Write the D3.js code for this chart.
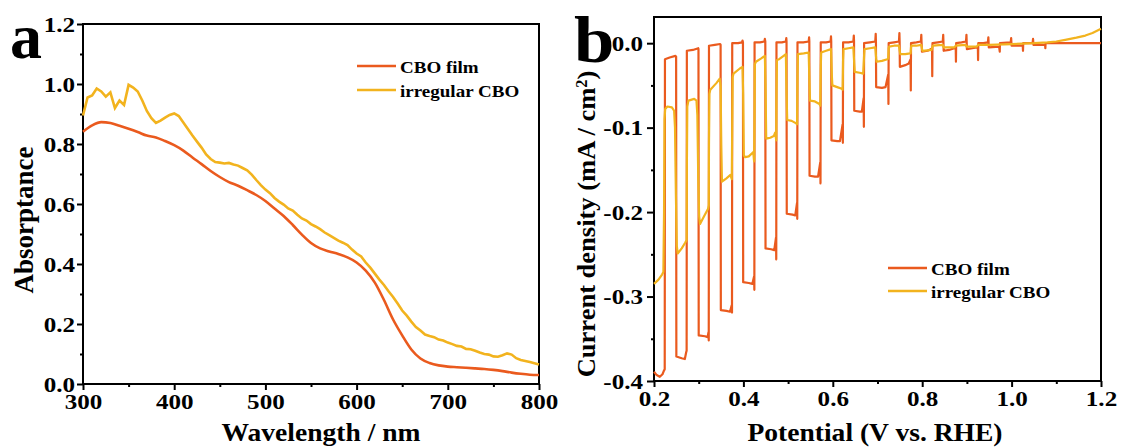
<!DOCTYPE html>
<html><head><meta charset="utf-8">
<script src="https://cdn.jsdelivr.net/npm/d3@7"></script>
<style>
body{margin:0;background:#fff}
svg{display:block}
text{font-family:"Liberation Serif","Times New Roman",serif;font-weight:bold;fill:#000}
</style>
</head><body><svg id="c" width="1123" height="448"></svg>
<script>
// ---------- Panel a data ----------
const seriesNames = ["CBO film", "irregular CBO"];
const colors = ["#EA5A1E", "#F2B31E"];
const filmWl = [300,310,320,330,340,350,360,370,380,390,400,410,420,430,440,450,460,470,480,490,500,510,520,530,540,550,560,570,580,590,600,610,620,630,640,650,660,670,680,690,700,710,720,730,740,750,760,770,780,790,800];
const filmAbs = [0.841,0.862,0.873,0.870,0.861,0.851,0.840,0.828,0.822,0.810,0.796,0.778,0.755,0.733,0.710,0.690,0.673,0.661,0.646,0.630,0.610,0.585,0.560,0.530,0.498,0.470,0.452,0.442,0.433,0.422,0.405,0.378,0.338,0.280,0.215,0.162,0.115,0.085,0.070,0.062,0.058,0.056,0.054,0.052,0.050,0.047,0.043,0.038,0.034,0.031,0.030];
const irrWl = d3.range(300, 801, 5);
const irrAbs = [0.895,0.955,0.962,0.985,0.975,0.958,0.972,0.920,0.945,0.930,0.997,0.988,0.975,0.945,0.910,0.886,0.870,0.878,0.888,0.897,
0.902,0.893,0.872,0.850,0.828,0.808,0.788,0.765,0.750,0.740,0.738,0.735,0.737,0.732,0.728,0.720,0.712,0.698,0.680,0.663,
0.648,0.636,0.620,0.608,0.598,0.585,0.578,0.564,0.552,0.545,0.533,0.525,0.516,0.505,0.496,0.487,0.478,0.471,0.463,0.448,
0.435,0.425,0.405,0.388,0.368,0.348,0.330,0.309,0.290,0.268,0.245,0.228,0.208,0.190,0.178,0.165,0.160,0.156,0.148,0.145,
0.138,0.133,0.127,0.125,0.117,0.116,0.111,0.105,0.100,0.098,0.092,0.091,0.096,0.102,0.098,0.086,0.080,0.077,0.073,0.069,0.065];
const xTicksA = [300,400,500,600,700,800];
const xMinorA = [350,450,550,650,750];
const yTicksA = [0,0.2,0.4,0.6,0.8,1.0,1.2];
const yMinorA = [0.1,0.3,0.5,0.7,0.9,1.1];

// ---------- Panel b data (potential V, current density mA/cm2) ----------
const filmChop = [
[0.200,-0.389],[0.206,-0.393],[0.213,-0.395],[0.219,-0.392],[0.222,-0.388],[0.224,-0.386],
[0.2245,-0.019],[0.235,-0.017],[0.248,-0.015],[0.2495,-0.016],
[0.250,-0.371],[0.262,-0.373],[0.269,-0.374],[0.272,-0.366],[0.273,-0.364],
[0.2735,-0.009],[0.287,-0.008],[0.299,-0.006],[0.2995,-0.007],
[0.300,-0.346],[0.314,-0.347],[0.320,-0.348],[0.322,-0.342],[0.3225,-0.352],
[0.323,-0.003],[0.336,-0.002],[0.348,-0.001],[0.349,-0.002],
[0.3495,-0.316],[0.362,-0.317],[0.370,-0.318],[0.374,-0.310],[0.3745,-0.319],
[0.375,0.000],[0.388,0.000],[0.397,0.001],[0.398,0.003],[0.399,0.001],
[0.3995,-0.283],[0.412,-0.284],[0.420,-0.285],[0.424,-0.276],[0.4245,-0.292],
[0.425,0.001],[0.437,0.001],[0.447,0.002],[0.448,0.005],[0.449,0.002],
[0.4495,-0.243],[0.462,-0.244],[0.469,-0.245],[0.473,-0.230],[0.4735,-0.256],
[0.474,0.001],[0.486,0.001],[0.495,0.002],[0.496,0.006],[0.4965,0.002],
[0.497,-0.202],[0.510,-0.203],[0.516,-0.204],[0.520,-0.189],[0.5205,-0.208],
[0.521,0.001],[0.534,0.001],[0.546,0.002],[0.547,0.007],[0.5475,0.002],
[0.548,-0.157],[0.560,-0.158],[0.567,-0.158],[0.572,-0.141],[0.5725,-0.166],
[0.573,0.001],[0.585,0.001],[0.595,0.002],[0.596,0.008],[0.5965,0.002],
[0.597,-0.115],[0.610,-0.116],[0.616,-0.116],[0.622,-0.096],[0.6225,-0.118],
[0.623,0.001],[0.635,0.001],[0.646,0.002],[0.647,0.009],[0.6475,0.002],
[0.648,-0.080],[0.660,-0.081],[0.665,-0.081],[0.669,-0.065],[0.6695,-0.099],
[0.670,0.000],[0.683,0.001],[0.695,0.002],[0.696,0.011],[0.6965,0.002],
[0.697,-0.052],[0.710,-0.053],[0.718,-0.052],[0.724,-0.037],[0.7245,-0.072],
[0.725,0.000],[0.737,0.001],[0.748,0.002],[0.749,0.012],[0.7495,0.002],
[0.750,-0.028],[0.762,-0.026],[0.770,-0.024],[0.774,-0.019],[0.7745,-0.056],
[0.775,0.000],[0.787,0.001],[0.797,0.002],[0.798,0.010],[0.7985,0.002],
[0.7995,-0.010],[0.812,-0.009],[0.820,-0.007],[0.822,-0.006],[0.8225,-0.039],
[0.823,0.000],[0.835,0.001],[0.846,0.002],[0.847,0.010],[0.8475,0.002],
[0.848,-0.009],[0.860,-0.008],[0.872,-0.006],[0.875,-0.005],[0.8755,-0.022],
[0.876,0.000],[0.888,0.001],[0.898,0.002],[0.899,0.010],[0.8995,0.002],
[0.900,-0.007],[0.912,-0.006],[0.922,-0.005],[0.9245,-0.004],[0.925,-0.020],
[0.9255,0.000],[0.937,0.000],[0.947,0.001],[0.948,0.007],[0.9485,0.001],
[0.949,-0.005],[0.972,-0.004],[0.9735,-0.010],
[0.974,0.000],[0.998,0.001],[0.999,0.006],[0.9995,0.001],
[1.000,-0.003],[1.025,-0.003],[1.0255,-0.009],
[1.026,0.000],[1.047,0.000],[1.048,0.005],[1.0485,0.001],
[1.049,-0.002],[1.075,-0.002],[1.0755,-0.006],
[1.076,0.000],[1.100,0.000],[1.150,0.000],[1.200,0.000]
];
const irregChop = [
[0.200,-0.285],[0.210,-0.280],[0.218,-0.274],[0.221,-0.271],[0.2225,-0.200],[0.2235,-0.090],[0.225,-0.078],[0.230,-0.075],[0.240,-0.076],[0.245,-0.080],[0.247,-0.100],[0.249,-0.180],[0.251,-0.240],[0.253,-0.249],[0.262,-0.243],[0.270,-0.236],[0.273,-0.233],
[0.2735,-0.150],[0.2745,-0.075],[0.277,-0.068],[0.290,-0.066],[0.295,-0.068],[0.297,-0.085],[0.299,-0.160],[0.301,-0.205],[0.303,-0.214],[0.312,-0.205],[0.321,-0.196],[0.3225,-0.192],
[0.323,-0.120],[0.324,-0.060],[0.326,-0.055],[0.340,-0.047],[0.347,-0.042],[0.349,-0.050],[0.3505,-0.120],[0.352,-0.164],[0.362,-0.160],[0.371,-0.156],[0.374,-0.161],
[0.375,-0.100],[0.376,-0.040],[0.378,-0.036],[0.392,-0.030],[0.398,-0.028],[0.3995,-0.060],[0.401,-0.133],[0.404,-0.135],[0.412,-0.134],[0.420,-0.130],[0.422,-0.129],[0.424,-0.140],
[0.425,-0.080],[0.4255,-0.025],[0.428,-0.022],[0.440,-0.018],[0.448,-0.015],[0.4495,-0.050],[0.451,-0.113],[0.460,-0.112],[0.468,-0.110],[0.471,-0.106],[0.4735,-0.115],
[0.474,-0.060],[0.475,-0.020],[0.480,-0.019],[0.490,-0.015],[0.495,-0.013],[0.4965,-0.060],[0.498,-0.091],[0.508,-0.092],[0.518,-0.095],[0.520,-0.096],
[0.521,-0.040],[0.522,-0.013],[0.535,-0.012],[0.546,-0.011],[0.548,-0.050],[0.549,-0.068],[0.560,-0.069],[0.570,-0.072],[0.572,-0.074],
[0.573,-0.030],[0.574,-0.011],[0.585,-0.009],[0.596,-0.007],[0.598,-0.040],[0.599,-0.050],[0.610,-0.052],[0.620,-0.054],[0.622,-0.055],
[0.623,-0.020],[0.624,-0.007],[0.635,-0.006],[0.646,-0.005],[0.648,-0.025],[0.649,-0.034],[0.660,-0.035],[0.668,-0.036],
[0.670,-0.015],[0.671,-0.007],[0.683,-0.006],[0.695,-0.005],[0.697,-0.018],[0.698,-0.022],[0.710,-0.021],[0.722,-0.019],[0.724,-0.018],
[0.725,-0.006],[0.726,-0.004],[0.737,-0.003],[0.748,-0.003],[0.750,-0.010],[0.751,-0.013],[0.762,-0.013],[0.773,-0.012],[0.774,-0.012],
[0.775,-0.005],[0.776,-0.003],[0.787,-0.003],[0.798,-0.002],[0.800,-0.008],[0.801,-0.009],[0.821,-0.008],[0.823,-0.004],[0.824,-0.003],
[0.846,-0.002],[0.848,-0.005],[0.872,-0.005],[0.875,-0.003],[0.897,-0.002],[0.899,-0.004],[0.922,-0.004],[0.925,-0.002],
[0.950,-0.002],[1.000,-0.001],[1.050,0.000],[1.080,0.001],[1.100,0.002],[1.120,0.004],[1.145,0.0065],[1.165,0.009],[1.181,0.012],[1.200,0.017]
];
const xTicksB = [0.2,0.4,0.6,0.8,1.0,1.2];
const xMinorB = [0.3,0.5,0.7,0.9,1.1];
const yTicksB = [-0.4,-0.3,-0.2,-0.1,0.0];
const yMinorB = [-0.35,-0.25,-0.15,-0.05];

// ---------- drawing ----------
const svg = d3.select("#c");
const stretch = (sel, s, origin) => sel.style("transform-box","fill-box").style("transform-origin", origin).style("transform", `scaleX(${s})`);

function axes(x, y, xt, xm, yt, ym, fx, fy, ypad, ytick) {
  const [x0, x1] = x.range(), [y0, y1] = y.range();
  const gx = svg.append("g").attr("transform", `translate(0,${y0})`)
    .call(d3.axisBottom(x).tickValues(xt).tickSize(6).tickPadding(3).tickFormat(fx));
  const gxm = svg.append("g").attr("transform", `translate(0,${y0})`)
    .call(d3.axisBottom(x).tickValues(xm).tickSize(3).tickFormat(""));
  const gy = svg.append("g").attr("transform", `translate(${x0},0)`)
    .call(d3.axisLeft(y).tickValues(yt).tickSize(ytick).tickPadding(ypad).tickFormat(fy));
  const gym = svg.append("g").attr("transform", `translate(${x0},0)`)
    .call(d3.axisLeft(y).tickValues(ym).tickSize(3).tickFormat(""));
  [gx, gxm, gy, gym].forEach(g => {
    g.select(".domain").remove();
    g.selectAll("line").attr("stroke", "#000").attr("stroke-width", 2);
  });
  gx.selectAll("text").style("font-size", "22px").call(stretch, 1.14, "50% 50%");
  gy.selectAll("text").style("font-size", "22px").call(stretch, 1.14, "100% 50%");
  svg.append("rect").attr("x", x0).attr("y", y1).attr("width", x1 - x0).attr("height", y0 - y1)
    .attr("fill", "none").attr("stroke", "#000").attr("stroke-width", 2);
}

// Panel a
const xA = d3.scaleLinear([300, 800], [83, 539]);
const yA = d3.scaleLinear([0, 1.2], [384, 24]);
axes(xA, yA, xTicksA, xMinorA, yTicksA, yMinorA, d3.format("d"), d => d.toFixed(1), 2, 6);

svg.append("path").datum(filmWl.map((w, i) => [w, filmAbs[i]]))
  .attr("d", d3.line().x(d => xA(d[0])).y(d => yA(d[1])).curve(d3.curveMonotoneX))
  .attr("fill", "none").attr("stroke", colors[0]).attr("stroke-width", 2.6);
svg.append("path").datum(irrWl.map((w, i) => [w, irrAbs[i]]))
  .attr("d", d3.line().x(d => xA(d[0])).y(d => yA(d[1])))
  .attr("fill", "none").attr("stroke", colors[1]).attr("stroke-width", 2.6);

// Panel b
const xB = d3.scaleLinear([0.2, 1.2], [654, 1101]);
const yB = d3.scaleLinear([-0.4, 0.031], [381, 17]);
axes(xB, yB, xTicksB, xMinorB, yTicksB, yMinorB, d => d.toFixed(1), d => d.toFixed(1), 4, 7);

const lineB = d3.line().x(d => xB(d[0])).y(d => yB(d[1]));
svg.append("path").datum(filmChop).attr("d", lineB).attr("fill", "none").attr("stroke", colors[0]).attr("stroke-width", 2.2).attr("stroke-linejoin", "round");
svg.append("path").datum(irregChop).attr("d", lineB).attr("fill", "none").attr("stroke", colors[1]).attr("stroke-width", 2.2).attr("stroke-linejoin", "round");

// Titles
svg.append("text").attr("x", 321).attr("y", 441).attr("text-anchor", "middle").style("font-size", "26px")
  .text("Wavelength / nm").call(stretch, 1.06, "50% 50%");
svg.append("text").attr("x", 875).attr("y", 441).attr("text-anchor", "middle").style("font-size", "26px")
  .text("Potential (V vs. RHE)").call(stretch, 1.06, "50% 50%");
svg.append("text").attr("transform", "translate(33,220) rotate(-90)").attr("text-anchor", "middle").style("font-size", "27px")
  .text("Absorptance");
const ct = svg.append("text").attr("transform", "translate(595,224) rotate(-90) scale(1.02,1)").attr("text-anchor", "middle").style("font-size", "26px");
ct.append("tspan").text("Current density (mA / cm");
ct.append("tspan").attr("baseline-shift", "super").style("font-size", "16px").text("2");
ct.append("tspan").text(")");

// Panel letters
svg.append("text").attr("x", 10).attr("y", 58).style("font-size", "64px").text("a");
svg.append("text").attr("transform", "translate(574,62) scale(1.1,1)").style("font-size", "66px").text("b");

// Legends
function legend(x, y, gap) {
  seriesNames.forEach((n, i) => {
    svg.append("line").attr("x1", x).attr("x2", x + 39).attr("y1", y + i * gap).attr("y2", y + i * gap)
      .attr("stroke", colors[i]).attr("stroke-width", 2.6);
    svg.append("text").attr("x", x + 43).attr("y", y + i * gap + 7).style("font-size", "17px").text(n)
      .call(stretch, 1.12, "0% 50%");
  });
}
legend(357, 66, 24);
legend(888, 268, 23);
</script></body></html>
